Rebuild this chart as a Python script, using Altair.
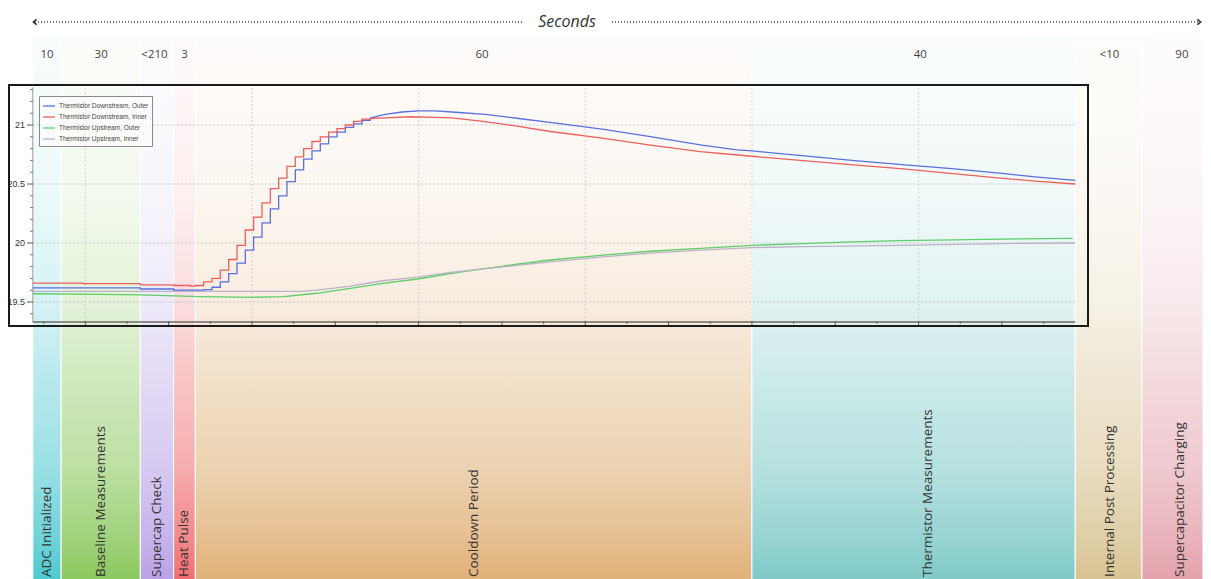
import altair as alt
import pandas as pd
import numpy as np

# ---------------- data ----------------
phases = ["ADC Initialized", "Baseline Measurements", "Supercap Check", "Heat Pulse",
          "Cooldown Period", "Thermistor Measurements", "Internal Post Processing",
          "Supercapacitor Charging"]
durations = ["10", "30", "<210", "3", "60", "40", "<10", "90"]
phase_start = [-0.63, -0.29, 0.66, 1.06, 1.32, 8.0, 11.88, 12.68]
phase_end = [-0.29, 0.66, 1.06, 1.32, 8.0, 11.88, 12.68, 13.413]
number_mid = [-0.46, 0.19, 0.83, 1.19, 4.76, 10.02, 12.29, 13.16]
label_mid = [-0.46, 0.19, 0.86, 1.19, 4.66, 10.11, 12.30, 13.14]

series_names = ["Thermistor Downstream, Outer", "Thermistor Downstream, Inner",
                "Thermistor Upstream, Outer", "Thermistor Upstream, Inner"]

down_outer = [(-0.63, 19.62), (0.0, 19.62), (0.66, 19.61), (1.06, 19.60), (1.32, 19.60),
              (1.42, 19.605), (1.52, 19.625), (1.62, 19.67), (1.72, 19.74), (1.82, 19.83),
              (1.92, 19.94), (2.02, 20.05), (2.12, 20.17), (2.22, 20.29), (2.32, 20.40),
              (2.42, 20.52), (2.52, 20.62), (2.62, 20.71), (2.72, 20.78), (2.82, 20.84),
              (2.92, 20.90), (3.02, 20.94), (3.12, 20.98), (3.22, 21.01), (3.32, 21.04),
              (3.42, 21.06), (3.6, 21.09), (3.8, 21.11), (4.0, 21.12), (4.2, 21.12),
              (4.4, 21.11), (4.8, 21.09), (5.2, 21.055), (5.6, 21.02), (6.2, 20.965),
              (6.8, 20.90), (7.4, 20.83), (7.82, 20.79), (8.0, 20.78), (8.6, 20.74),
              (9.2, 20.70), (9.8, 20.665), (10.4, 20.63), (11.0, 20.59), (11.4, 20.56),
              (11.88, 20.53)]
down_inner = [(-0.63, 19.66), (-0.03, 19.655), (0.66, 19.645), (1.06, 19.64), (1.26, 19.635),
              (1.32, 19.64), (1.42, 19.67), (1.52, 19.70), (1.62, 19.77), (1.72, 19.86),
              (1.82, 19.98), (1.92, 20.11), (2.02, 20.22), (2.12, 20.34), (2.22, 20.46),
              (2.32, 20.55), (2.42, 20.65), (2.52, 20.73), (2.62, 20.80), (2.72, 20.86),
              (2.82, 20.90), (2.92, 20.94), (3.02, 20.97), (3.12, 21.00), (3.22, 21.03),
              (3.32, 21.05), (3.42, 21.055), (3.6, 21.06), (3.9, 21.07), (4.2, 21.065),
              (4.4, 21.06), (4.77, 21.03), (5.18, 20.99), (5.58, 20.945), (6.18, 20.89),
              (6.78, 20.83), (7.38, 20.775), (8.0, 20.735), (8.58, 20.70), (9.18, 20.665),
              (9.78, 20.63), (10.38, 20.59), (10.98, 20.55), (11.4, 20.525), (11.88, 20.50)]
up_outer = [(-0.63, 19.57), (0.18, 19.565), (0.66, 19.56), (1.38, 19.545), (2.0, 19.54),
            (2.38, 19.545), (2.78, 19.574), (3.18, 19.616), (3.57, 19.658), (3.99, 19.695),
            (4.38, 19.74), (4.77, 19.78), (5.18, 19.82), (5.58, 19.856), (6.18, 19.895),
            (6.78, 19.93), (7.38, 19.955), (8.0, 19.98), (8.6, 19.995), (9.2, 20.01),
            (9.78, 20.02), (10.4, 20.027), (10.98, 20.033), (11.85, 20.04)]
up_inner = [(-0.63, 19.59), (1.38, 19.59), (2.58, 19.59), (2.78, 19.60), (3.18, 19.635),
            (3.57, 19.68), (3.99, 19.71), (4.38, 19.75), (4.77, 19.78), (5.18, 19.81),
            (5.58, 19.84), (6.18, 19.88), (6.78, 19.915), (7.38, 19.94), (8.0, 19.96),
            (8.6, 19.97), (9.78, 19.98), (10.98, 19.995), (11.88, 20.0)]

y_major = [19.5, 20.0, 20.5, 21.0]
y_minor = [19.4, 19.6, 19.7, 19.8, 19.9, 20.1, 20.2, 20.3, 20.4, 20.6, 20.7, 20.8, 20.9, 21.1, 21.2, 21.3]
x_grid = [0, 2, 4, 6, 8, 10]
x_major_ticks = list(range(0, 12))
x_minor_ticks = [k + 0.5 for k in range(-1, 12)]
plot_t = (-0.63, 11.88)
plot_T = (19.33, 21.32)
axis_title = "Seconds"

# ---------------- styles ----------------
phase_colors = ["#3fc4cc", "#80c34f", "#b39ae4", "#ef6164", "#ddaa6c", "#74c5c3", "#d5be88", "#e19aa4"]
series_colors = ["#5a6fe0", "#ee5f5b", "#5ccf68", "#bcb2c8"]
grad_offsets = [0.0, 0.3, 0.5, 0.63, 0.79, 0.92, 1.0]
grad_alphas = [0.03, 0.10, 0.22, 0.37, 0.52, 0.74, 0.92]


def blend(hexcol, a):
    c = [int(hexcol[i:i + 2], 16) for i in (1, 3, 5)]
    m = [round(255 - (255 - v) * a) for v in c]
    return "#%02x%02x%02x" % tuple(m)


def gradient(base):
    return alt.LinearGradient(
        gradient="linear",
        stops=[alt.GradientStop(color=blend(base, a), offset=o) for o, a in zip(grad_offsets, grad_alphas)],
        x1=0, x2=0, y1=0, y2=1)


phase_df = pd.DataFrame({"idx": range(len(phases)), "phase": phases, "dur": durations,
                         "start": phase_start, "end": phase_end,
                         "nmid": number_mid, "lmid": label_mid})

rows = []
for name, pts in zip(series_names, [down_outer, down_inner, up_outer, up_inner]):
    for t, v in pts:
        rows.append({"series": name, "t": t, "T": v, "down": name in series_names[:2]})
lines_df = pd.DataFrame(rows)

xs = alt.Scale(domain=[-0.928, 13.413], nice=False, zero=False)
ys = alt.Scale(domain=[19.33, 21.32], range=[314.06, 79.24], nice=False, zero=False)
one = pd.DataFrame({"a": [0]})

layers = []
# bands
for i in range(len(phases)):
    layers.append(
        alt.Chart(phase_df).transform_filter(alt.datum.idx == i)
        .mark_rect(fill=gradient(phase_colors[i]), stroke="white", strokeWidth=1)
        .encode(x=alt.X("start:Q", scale=xs, axis=None), x2="end:Q",
                y=alt.value(27), y2=alt.value(572)))

# grid
hgrid = pd.DataFrame({"T": y_major, "t0": plot_t[0], "t1": plot_t[1]})
vgrid = pd.DataFrame({"t": x_grid, "lo": plot_T[0], "hi": plot_T[1]})
layers.append(alt.Chart(hgrid).mark_rule(color="#c4c4c4", strokeDash=[2, 2], strokeWidth=1).encode(
    y=alt.Y("T:Q", scale=ys, axis=None), x=alt.X("t0:Q", scale=xs, axis=None), x2="t1:Q"))
layers.append(alt.Chart(vgrid).mark_rule(color="#d0d0d0", strokeDash=[2, 2], strokeWidth=1).encode(
    x=alt.X("t:Q", scale=xs, axis=None), y=alt.Y("lo:Q", scale=ys, axis=None), y2="hi:Q"))

# y axis
yaxis_df = pd.DataFrame({"t": [plot_t[0]], "lo": [plot_T[0]], "hi": [plot_T[1]]})
layers.append(alt.Chart(yaxis_df).mark_rule(color="#9a9a9a", strokeWidth=1).encode(
    x=alt.X("t:Q", scale=xs, axis=None), y=alt.Y("lo:Q", scale=ys, axis=None), y2="hi:Q"))
layers.append(alt.Chart(pd.DataFrame({"T": y_major})).mark_rule(color="#555", strokeWidth=1).encode(
    y=alt.Y("T:Q", scale=ys, axis=None), x=alt.value(19), x2=alt.value(25)))
layers.append(alt.Chart(pd.DataFrame({"T": y_minor})).mark_rule(color="#777", strokeWidth=1).encode(
    y=alt.Y("T:Q", scale=ys, axis=None), x=alt.value(22), x2=alt.value(25)))
layers.append(alt.Chart(pd.DataFrame({"T": y_major})).mark_text(
    align="right", baseline="middle", fontSize=9, font="Liberation Sans", color="#333").encode(
    y=alt.Y("T:Q", scale=ys, axis=None), x=alt.value(17), text=alt.Text("T:Q", format="~g")))

# x axis
xaxis_df = pd.DataFrame({"T": [plot_T[0]], "t0": [plot_t[0]], "t1": [plot_t[1]]})
layers.append(alt.Chart(xaxis_df).mark_rule(color="#6e6a66", strokeWidth=1.5).encode(
    y=alt.Y("T:Q", scale=ys, axis=None), x=alt.X("t0:Q", scale=xs, axis=None), x2="t1:Q"))
layers.append(alt.Chart(pd.DataFrame({"t": x_major_ticks})).mark_rule(color="#555", strokeWidth=1).encode(
    x=alt.X("t:Q", scale=xs, axis=None), y=alt.value(313), y2=alt.value(318)))
layers.append(alt.Chart(pd.DataFrame({"t": x_minor_ticks})).mark_rule(color="#666", strokeWidth=1).encode(
    x=alt.X("t:Q", scale=xs, axis=None), y=alt.value(313), y2=alt.value(316)))

# lines
leg = alt.Legend(title=None, orient="none", legendX=31, legendY=88,
                 fillColor="rgba(255,255,255,0.55)", strokeColor="#8a8a8a", padding=3,
                 labelFontSize=6.5, labelFont="Liberation Sans", labelColor="#444",
                 symbolType="stroke", symbolSize=140, symbolStrokeWidth=1.3,
                 rowPadding=0, labelOffset=3)
col = alt.Color("series:N", scale=alt.Scale(domain=series_names, range=series_colors), legend=leg)
enc = dict(x=alt.X("t:Q", scale=xs, axis=None), y=alt.Y("T:Q", scale=ys, axis=None), color=col,
           detail="series:N")
layers.append(alt.Chart(lines_df).transform_filter("!datum.down").mark_line(strokeWidth=1.3).encode(**enc))
layers.append(alt.Chart(lines_df).transform_filter("datum.down && datum.t <= 3.42")
              .mark_line(strokeWidth=1.3, interpolate="step-after").encode(**enc))
layers.append(alt.Chart(lines_df).transform_filter("datum.down && datum.t >= 3.42")
              .mark_line(strokeWidth=1.3).encode(**enc))

# frame
layers.append(alt.Chart(one).mark_rect(fill="transparent", stroke="#1a1a1a", strokeWidth=2).encode(
    x=alt.value(1), x2=alt.value(1080), y=alt.value(77), y2=alt.value(318)))

# duration numbers and phase labels
layers.append(alt.Chart(phase_df).mark_text(fontSize=11.5, font="Open Sans", color="#444").encode(
    x=alt.X("nmid:Q", scale=xs, axis=None), y=alt.value(47), text="dur:N"))
layers.append(alt.Chart(phase_df).mark_text(angle=270, align="left", baseline="middle", fontSize=13.5,
                                            font="Open Sans", color="#333").encode(
    x=alt.X("lmid:Q", scale=xs, axis=None), y=alt.value(569), text="phase:N"))

# "Seconds" header arrow
layers.append(alt.Chart(one).mark_text(text=axis_title, fontStyle="italic", fontSize=16,
                                       font="Open Sans", color="#333", baseline="middle").encode(
    x=alt.value(559), y=alt.value(13.5)))
layers.append(alt.Chart(one).mark_rule(color="#444", strokeDash=[1, 2], strokeWidth=1.3).encode(
    x=alt.value(27), x2=alt.value(514), y=alt.value(14)))
layers.append(alt.Chart(one).mark_rule(color="#444", strokeDash=[1, 2], strokeWidth=1.3).encode(
    x=alt.value(604), x2=alt.value(1190), y=alt.value(14)))
layers.append(alt.Chart(one).mark_point(shape="M 0.6 -1 L -0.6 0 L 0.6 1", filled=False, size=30,
                                        strokeWidth=1.6, color="#333", opacity=1).encode(
    x=alt.value(27), y=alt.value(14)))
layers.append(alt.Chart(one).mark_point(shape="M -0.6 -1 L 0.6 0 L -0.6 1", filled=False, size=30,
                                        strokeWidth=1.6, color="#333", opacity=1).encode(
    x=alt.value(1191), y=alt.value(14)))

chart = alt.layer(*layers).properties(
    width=1195, height=571, padding=0, autosize=alt.AutoSizeParams(type="none"), background="white"
).configure_view(stroke="transparent")

chart.save("out.html", embed_options={"renderer": "svg", "actions": False})
